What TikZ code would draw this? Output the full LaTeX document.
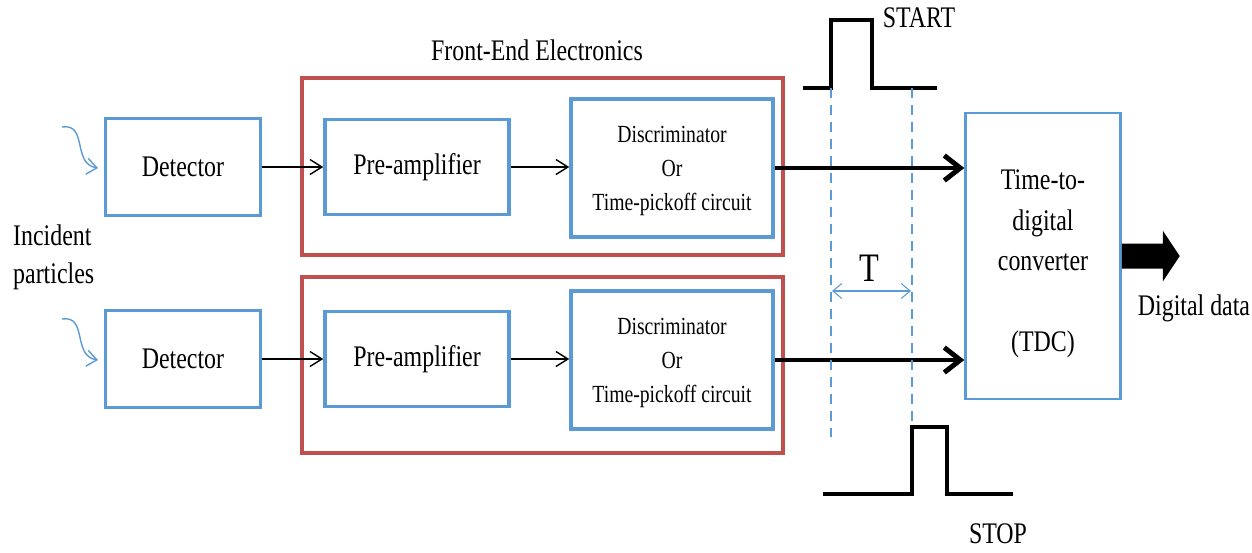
\documentclass[tikz,border=0pt]{standalone}
\usepackage{fontspec}
\setmainfont{Liberation Serif}[FakeStretch=0.8]
\usepackage{tikz}
\usetikzlibrary{arrows.meta}

\definecolor{boxblue}{RGB}{91,155,213}
\definecolor{fered}{RGB}{192,80,77}

\begin{document}
\begin{tikzpicture}[x=0.2mm, y=-0.2mm,
  every node/.style={font=\fontsize{17}{23}\selectfont},
  block/.style={draw=boxblue, line width=2pt, align=center, inner sep=0pt},
  febox/.style={draw=fered, line width=1.9pt, inner sep=0pt},
  small/.style={font=\fontsize{14}{19.3}\selectfont},
  sig/.style={-{Straight Barb[length=2.4mm, width=3mm]}, line width=0.8pt},
  bigsig/.style={-{Straight Barb[length=3.2mm, width=5mm]}, line width=2.8pt},
  pulse/.style={line width=2.3pt, line join=miter},
  marker/.style={boxblue, dash pattern=on 2mm off 1.4mm, line width=0.6pt},
  particle/.style={boxblue, line width=0.8pt, -{Straight Barb[length=2mm, width=3.2mm]}},
]
  \useasboundingbox (0,0) rectangle (1252,552);

  % front-end frames
  \node[febox, minimum width=96.2mm, minimum height=35.4mm] (fe1) at (542.5,166.5) {};
  \node[febox, minimum width=96.2mm, minimum height=35.2mm] (fe2) at (542.5,365) {};
  \node (fetitle) at (537,50) {Front-End Electronics};

  % channel 1
  \node[block, minimum width=31mm, minimum height=19.4mm] (det1) at (183,167) {Detector};
  \node[block, minimum width=36.8mm, minimum height=19mm] (pre1) at (417,167) {Pre-amplifier};
  \node[block, small, minimum width=40.4mm, minimum height=27.6mm] (disc1) at (672,168) {};
  \node[small, align=center] (disctext1) at (672,171) {Discriminator\\Or\\Time-pickoff circuit};

  % channel 2
  \node[block, minimum width=31mm, minimum height=19.4mm] (det2) at (183,359) {Detector};
  \node[block, minimum width=36.8mm, minimum height=19mm] (pre2) at (417,359) {Pre-amplifier};
  \node[block, small, minimum width=40.4mm, minimum height=27.6mm] (disc2) at (672,360) {};
  \node[small, align=center] (disctext2) at (672,363) {Discriminator\\Or\\Time-pickoff circuit};

  % converter
  \node[block, line width=1.4pt, minimum width=31mm, minimum height=57.2mm] (tdc) at (1043,256) {};
  \node[align=center] (tdctext) at (1043,264) {Time-to-\\digital\\converter\\[23pt](TDC)};

  % incoming particles
  \node[align=left, anchor=west, font=\fontsize{17}{21.6}\selectfont] (incident) at (7,257) {Incident\\particles};
  \coordinate (src1) at (62,127);
  \coordinate (in1) at (98,168);
  \coordinate (src2) at (62,319);
  \coordinate (in2) at (98,360);
  \draw[particle] (src1) .. controls (88,123) and (72,164) .. (in1);
  \draw[particle] (src2) .. controls (88,315) and (72,356) .. (in2);

  % signal path
  \draw[sig] (det1) -- (pre1);
  \draw[sig] (pre1.east) -- (pre1.east -| disc1.west);
  \draw[bigsig] (disc1.east) -- (disc1.east -| tdc.west);
  \draw[sig] (det2) -- (pre2);
  \draw[sig] (pre2.east) -- (pre2.east -| disc2.west);
  \draw[bigsig] (disc2.east) -- (disc2.east -| tdc.west);

  % output
  \fill (tdc.east) ++(0,-12.5) -- ++(41,0) -- ++(0,-13) -- ++(17,25.5) -- ++(-17,25.5) -- ++(0,-13) -- ++(-41,0) -- cycle;
  \node (digital) at (1194,308) {Digital data};

  % start and stop pulses
  \coordinate (t0) at (831,88);
  \coordinate (t1) at (912,88);
  \draw[pulse] (803,88) -- (t0) -- (831,20) -- (872,20) -- (872,88) -- (937,88);
  \node (start) at (919,18) {START};
  \draw[pulse] (823,494) -- (912,494) -- (912,427) -- (947,427) -- (947,494) -- (1013,494);
  \node (stop) at (998,534) {STOP};

  % time interval
  \draw[marker] (t0) -- (831,437);
  \draw[marker] (t1) -- (912,427);
  \coordinate (ta) at (832,291);
  \coordinate (tb) at (911,291);
  \draw[boxblue, line width=0.6pt, {Straight Barb[length=1.8mm, width=3mm]}-{Straight Barb[length=1.8mm, width=3mm]}] (ta) -- (tb);
  \node[font=\fontsize{23}{26}\selectfont] (tlabel) at (869,268) {T};
\end{tikzpicture}
\end{document}
